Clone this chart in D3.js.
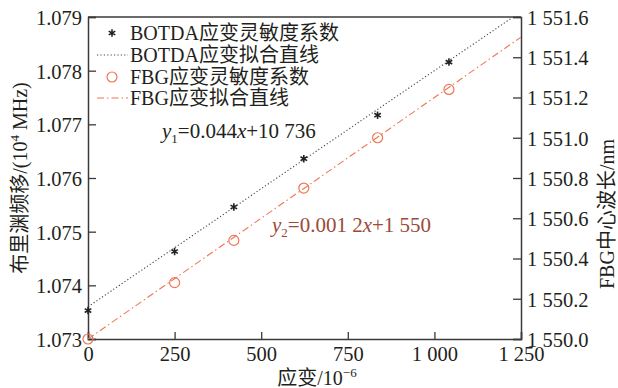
<!DOCTYPE html>
<html>
<head>
<meta charset="utf-8">
<script src="https://cdn.jsdelivr.net/npm/d3@7"></script>
<style>
  body { margin: 0; background: #fff; }
  svg text { font-family: "Liberation Serif", "Noto Sans CJK SC", serif; fill: #231f20; }
</style>
</head>
<body>
<div id="chart"></div>
<script>
// strain points (10^-6)
const strain = [0, 250, 421, 623, 836, 1042];
// BOTDA brillouin shift (10^4 MHz)
const botda = [1.07353, 1.07463, 1.07546, 1.07636, 1.07717, 1.07816];
// FBG centre wavelength (nm)
const fbg = [1550.00, 1550.28, 1550.49, 1550.75, 1551.00, 1551.24];

// fitted lines, end points
const botdaFitX = [0, 1225];
const botdaFitY = [1.0736, 1.07899];
const fbgFitX = [0, 1250];
const fbgFitY = [1550.0, 1551.5];

const xTicks = [0, 250, 500, 750, 1000, 1250];
const yLeftTicks = [1.073, 1.074, 1.075, 1.076, 1.077, 1.078, 1.079];
const yRightTicks = [1550.0, 1550.2, 1550.4, 1550.6, 1550.8, 1551.0, 1551.2, 1551.4, 1551.6];

const legendLabels = ["BOTDA应变灵敏度系数", "BOTDA应变拟合直线", "FBG应变灵敏度系数", "FBG应变拟合直线"];

var margin = {top: 17, right: 97, bottom: 49, left: 88},
    W = 618, H = 388,
    width = W - margin.left - margin.right,
    height = H - margin.top - margin.bottom;

var svg = d3.select("#chart").append("svg")
  .attr("width", W).attr("height", H)
  .append("g")
  .attr("transform", "translate(" + margin.left + "," + margin.top + ")");

var x = d3.scaleLinear().domain([0, 1250]).range([0, width]);
var yL = d3.scaleLinear().domain([1.073, 1.079]).range([height, 0]);
var yR = d3.scaleLinear().domain([1550.0, 1551.6]).range([height, 0]);

// space as thousands separator
function fmtSpace(v, dec) {
  var s = v.toFixed(dec);
  var parts = s.split(".");
  parts[0] = parts[0].replace(/\B(?=(\d{3})+(?!\d))/g, " ");
  return parts.join(".");
}

const axisColor = "#3a3a3a";
const red = "#ef7656";

svg.append("defs").append("clipPath").attr("id", "clip")
  .append("rect").attr("width", width).attr("height", height);

// axes
var xAxis = svg.append("g")
  .attr("transform", "translate(0," + height + ")")
  .call(d3.axisBottom(x).tickValues(xTicks).tickSize(-7).tickPadding(7)
        .tickFormat(function(d) { return fmtSpace(d, 0); }));

var leftAxis = svg.append("g")
  .call(d3.axisLeft(yL).tickValues(yLeftTicks).tickSize(-8).tickPadding(6)
        .tickFormat(function(d) { return d.toFixed(3); }));

var rightAxis = svg.append("g")
  .attr("transform", "translate(" + width + ",0)")
  .call(d3.axisRight(yR).tickValues(yRightTicks).tickSize(-8).tickPadding(6)
        .tickFormat(function(d) { return fmtSpace(d, 1); }));

[xAxis, leftAxis, rightAxis].forEach(function(a) {
  a.selectAll(".domain").attr("stroke", axisColor).attr("stroke-width", 1.5);
  a.selectAll(".tick line").attr("stroke", axisColor).attr("stroke-width", 1.3);
  a.selectAll(".tick text").style("font-size", "20.5px").attr("fill", "#231f20");
});
rightAxis.selectAll(".tick text").attr("dy", "0.36em");
leftAxis.selectAll(".tick text").attr("dy", "0.36em");

// top border
svg.append("line")
  .attr("x1", 0).attr("x2", width).attr("y1", 0).attr("y2", 0)
  .attr("stroke", axisColor).attr("stroke-width", 1.5);

// fit lines
var plot = svg.append("g").attr("clip-path", "url(#clip)");

var lineL = d3.line().x(function(d) { return x(d[0]); }).y(function(d) { return yL(d[1]); });
var lineR = d3.line().x(function(d) { return x(d[0]); }).y(function(d) { return yR(d[1]); });

plot.append("path")
  .datum(d3.zip(botdaFitX, botdaFitY))
  .attr("d", lineL)
  .attr("fill", "none").attr("stroke", "#444").attr("stroke-width", 1.1)
  .attr("stroke-dasharray", "1.2,2.2");

plot.append("path")
  .datum(d3.zip(fbgFitX, fbgFitY))
  .attr("d", lineR)
  .attr("fill", "none").attr("stroke", red).attr("stroke-width", 1.1)
  .attr("stroke-dasharray", "7,3,1.5,3");

// markers
var star = d3.symbol().type(d3.symbolAsterisk).size(40);

svg.selectAll(".botda")
  .data(d3.zip(strain, botda))
  .enter().append("path")
  .attr("class", "botda")
  .attr("transform", function(d) { return "translate(" + x(d[0]) + "," + yL(d[1]) + ")"; })
  .attr("d", star)
  .attr("fill", "none").attr("stroke", "#222").attr("stroke-width", 1.6);

svg.selectAll(".fbg")
  .data(d3.zip(strain, fbg))
  .enter().append("circle")
  .attr("class", "fbg")
  .attr("cx", function(d) { return x(d[0]); })
  .attr("cy", function(d) { return yR(d[1]); })
  .attr("r", 5)
  .attr("fill", "none").attr("stroke", red).attr("stroke-width", 1.2);

// legend
var legend = svg.append("g").attr("transform", "translate(0,0)");
var rows = [16, 38, 60, 81];
legendLabels.forEach(function(t, i) {
  var g = legend.append("g").attr("transform", "translate(0," + rows[i] + ")");
  if (i === 0) {
    g.append("path").attr("transform", "translate(24,0)").attr("d", star)
      .attr("fill", "none").attr("stroke", "#222").attr("stroke-width", 1.6);
  } else if (i === 1) {
    g.append("line").attr("x1", 9).attr("x2", 40).attr("y1", 0).attr("y2", 0)
      .attr("stroke", "#444").attr("stroke-width", 1.1).attr("stroke-dasharray", "1.2,2.2");
  } else if (i === 2) {
    g.append("circle").attr("cx", 24).attr("cy", 0).attr("r", 5)
      .attr("fill", "none").attr("stroke", red).attr("stroke-width", 1.2);
  } else {
    g.append("line").attr("x1", 9).attr("x2", 40).attr("y1", 0).attr("y2", 0)
      .attr("stroke", red).attr("stroke-width", 1.1).attr("stroke-dasharray", "7,3,1.5,3");
  }
  g.append("text").attr("x", 42).attr("y", 0).attr("dy", "0.36em")
    .style("font-size", "20px").text(t);
});

// equations
var eq1 = svg.append("text").attr("x", 74).attr("y", 121).style("font-size", "21px");
eq1.append("tspan").style("font-style", "italic").text("y");
eq1.append("tspan").attr("dy", 5).style("font-size", "13px").text("1");
eq1.append("tspan").attr("dy", -5).text("=0.044");
eq1.append("tspan").style("font-style", "italic").text("x");
eq1.append("tspan").text("+10 736");

var eqColor = "#9b4a37";
var eq2 = svg.append("text").attr("x", 184).attr("y", 215).style("font-size", "21px")
  .style("fill", eqColor);
eq2.append("tspan").style("font-style", "italic").style("fill", eqColor).text("y");
eq2.append("tspan").attr("dy", 5).style("font-size", "13px").style("fill", eqColor).text("2");
eq2.append("tspan").attr("dy", -5).style("fill", eqColor).text("=0.001 2");
eq2.append("tspan").style("font-style", "italic").style("fill", eqColor).text("x");
eq2.append("tspan").style("fill", eqColor).text("+1 550");

// axis titles
var xt = svg.append("text")
  .attr("x", 229).attr("y", height + 46)
  .attr("text-anchor", "middle").style("font-size", "20px");
xt.append("tspan").text("应变/10");
xt.append("tspan").attr("dy", -8).style("font-size", "13px").text("−6");

var ylt = svg.append("text")
  .attr("transform", "translate(" + (-61) + "," + (height / 2) + ") rotate(-90)")
  .attr("text-anchor", "middle").style("font-size", "20px");
ylt.append("tspan").text("布里渊频移/(10");
ylt.append("tspan").attr("dy", -8).style("font-size", "13px").text("4");
ylt.append("tspan").attr("dy", 8).text(" MHz)");

svg.append("text")
  .attr("transform", "translate(" + (width + 86) + "," + (197) + ") rotate(-90)")
  .attr("text-anchor", "middle").attr("dy", "0.36em").style("font-size", "20px")
  .text("FBG中心波长/nm");
</script>
</body>
</html>
